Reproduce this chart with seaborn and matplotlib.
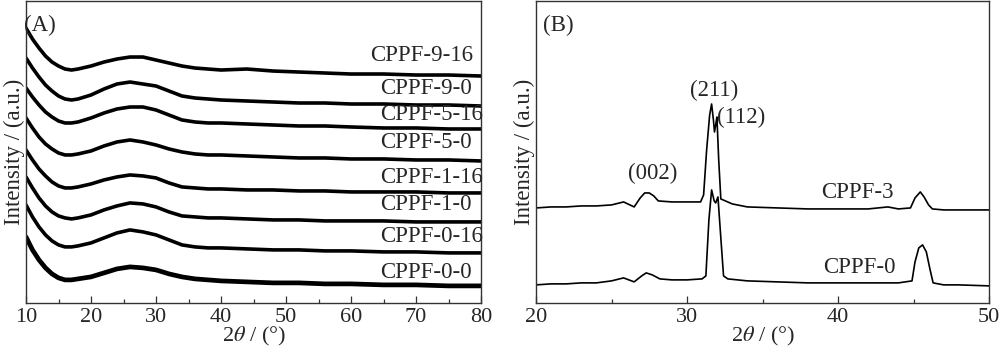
import pandas as pd
import matplotlib
matplotlib.use("Agg")
import matplotlib.pyplot as plt
import seaborn as sns
from matplotlib.ticker import MultipleLocator

# ==========================================
# DATA (arbitrary intensity units)
# ==========================================
# Panel A: amorphous XRD patterns, offset stacked
theta_a = [10, 11, 12, 13, 14, 15, 16, 17, 18, 20, 22, 24, 26, 28, 30, 32, 34,
           36, 38, 40, 44, 48, 52, 56, 60, 65, 70, 75, 80]
cppf_0_0 = [66, 53, 43, 35, 29, 25, 23, 23, 24, 26, 30, 34, 36, 35, 33, 29, 26,
            24, 23, 22, 21, 20, 20, 19, 19, 18, 18, 17, 17]
cppf_0_16 = [98, 86, 76, 68, 62, 58, 56, 56, 57, 60, 65, 70, 73, 71, 68, 63, 58,
             56, 55, 55, 54, 53, 53, 52, 52, 51, 51, 50, 50]
cppf_1_0 = [126, 115, 105, 97, 91, 87, 85, 84, 85, 88, 93, 97, 100, 99, 96, 91, 87,
            86, 85, 85, 84, 83, 83, 82, 82, 82, 81, 81, 81]
cppf_1_16 = [153, 143, 134, 127, 121, 117, 115, 115, 116, 119, 123, 126, 128, 127, 125, 120, 116,
             115, 114, 114, 113, 113, 112, 112, 111, 111, 111, 110, 110]
cppf_5_0 = [185, 175, 166, 159, 154, 150, 148, 148, 149, 152, 157, 161, 163, 161, 158, 154, 151,
            149, 148, 148, 147, 146, 145, 145, 144, 144, 143, 143, 142]
cppf_5_16 = [215, 206, 198, 191, 186, 182, 180, 180, 181, 185, 190, 194, 196, 196, 193, 188, 183,
             181, 180, 180, 179, 178, 177, 177, 176, 175, 175, 174, 174]
cppf_9_0 = [245, 235, 226, 218, 212, 207, 204, 203, 204, 208, 214, 219, 221, 219, 217, 212, 207,
            205, 204, 203, 202, 201, 200, 200, 199, 199, 198, 198, 197]
cppf_9_16 = [275, 264, 255, 247, 241, 237, 234, 233, 234, 237, 241, 244, 246, 246, 243, 240, 237,
             235, 234, 233, 234, 232, 231, 230, 229, 229, 228, 228, 227]

series_a = {
    "CPPF-0-0": cppf_0_0, "CPPF-0-16": cppf_0_16,
    "CPPF-1-0": cppf_1_0, "CPPF-1-16": cppf_1_16,
    "CPPF-5-0": cppf_5_0, "CPPF-5-16": cppf_5_16,
    "CPPF-9-0": cppf_9_0, "CPPF-9-16": cppf_9_16,
}
# label anchor (x, y) for each curve in panel A
labels_a = {
    "CPPF-9-16": (63.0, 248), "CPPF-9-0": (64.5, 215), "CPPF-5-16": (64.5, 188),
    "CPPF-5-0": (64.5, 160), "CPPF-1-16": (64.5, 125), "CPPF-1-0": (64.5, 98),
    "CPPF-0-16": (64.5, 66), "CPPF-0-0": (64.5, 30),
}

# Panel B: crystalline patterns
theta_b0 = [20, 21, 22, 23, 24, 25, 25.8, 26.5, 27.0, 27.3, 27.7, 28.2, 29, 30, 31,
            31.25, 31.45, 31.63, 31.8, 31.9, 32.05, 32.25, 32.42, 32.7, 34, 36, 38,
            40, 42, 44, 44.9, 45.1, 45.35, 45.6, 45.85, 46.1, 46.3, 47, 48, 50]
cppf_0 = [18, 19, 19, 20, 20, 22, 25, 21, 27, 30, 28, 24, 23, 23, 24,
          27, 83, 113, 102, 100, 106, 63, 27, 24, 22, 21, 20,
          20, 20, 20, 22, 41, 55, 58, 51, 33, 20, 18, 18, 17]
theta_b3 = [20, 21, 22, 23, 24, 25, 25.8, 26.5, 26.9, 27.2, 27.5, 27.8, 28.1, 29, 30,
            30.9, 31.1, 31.3, 31.5, 31.63, 31.75, 31.82, 31.9, 31.98, 32.1, 32.24, 33,
            34, 36, 38, 40, 42, 43.3, 44, 44.8, 45.1, 45.45, 45.7, 46.0, 46.25, 47, 50]
cppf_3 = [95, 96, 96, 97, 97, 98, 101, 96, 105, 110, 110, 107, 102, 101, 101,
          101, 108, 153, 188, 199, 183, 171, 178, 186, 143, 104, 99,
          96, 95, 94, 94, 94, 96, 94, 95, 105, 111, 106, 98, 94, 93, 93]

# ==========================================
# PLOTTING
# ==========================================
sns.set_theme(style="ticks")
plt.rcParams["font.family"] = ["Liberation Serif", "DejaVu Serif"]
plt.rcParams["mathtext.fontset"] = "stix"
FS = 16.5

fig = plt.figure(figsize=(10, 3.53), dpi=100)
ax_a = fig.add_axes([0.026, 0.142, 0.455, 0.855])
ax_b = fig.add_axes([0.536, 0.142, 0.453, 0.855])

for name, vals in series_a.items():
    df = pd.DataFrame({"theta": theta_a, "I": vals})
    lw = 3.4 if name == "CPPF-0-0" else 2.6
    sns.lineplot(data=df, x="theta", y="I", color="black", lw=lw, ax=ax_a)
    lx, ly = labels_a[name]
    ax_a.text(lx, ly, name, fontsize=FS, ha="left", va="center")

ax_a.set_xlim(10, 80)
ax_a.set_ylim(0, 302)
ax_a.xaxis.set_major_locator(MultipleLocator(10))
ax_a.xaxis.set_minor_locator(MultipleLocator(5))
ax_a.text(12.15, 278, "(A)", fontsize=FS, ha="center", va="center")

df0 = pd.DataFrame({"theta": theta_b0, "I": cppf_0})
df3 = pd.DataFrame({"theta": theta_b3, "I": cppf_3})
sns.lineplot(data=df0, x="theta", y="I", color="black", lw=1.2, ax=ax_b)
sns.lineplot(data=df3, x="theta", y="I", color="black", lw=1.2, ax=ax_b)
ax_b.set_xlim(20, 50)
ax_b.set_ylim(0, 302)
ax_b.xaxis.set_major_locator(MultipleLocator(10))
ax_b.xaxis.set_minor_locator(MultipleLocator(5))
ax_b.text(21.46, 278, "(B)", fontsize=FS, ha="center", va="center")
ax_b.text(38.87, 110, "CPPF-3", fontsize=FS, ha="left", va="center")
ax_b.text(39.0, 35, "CPPF-0", fontsize=FS, ha="left", va="center")
ax_b.text(27.75, 130, "(002)", fontsize=FS, ha="center", va="center")
ax_b.text(31.8, 213, "(211)", fontsize=FS, ha="center", va="center")
ax_b.text(33.6, 186, "(112)", fontsize=FS, ha="center", va="center")

for ax in (ax_a, ax_b):
    ax.set_yticks([])
    ax.tick_params(axis="x", which="major", direction="in", length=5, width=0.9,
                   color="#333333", labelsize=16, pad=4, top=False)
    ax.tick_params(axis="x", which="minor", direction="in", length=3, width=0.9,
                   color="#333333", top=False)
    for sp in ax.spines.values():
        sp.set_visible(True)
        sp.set_linewidth(1.0)
        sp.set_color("#333333")
    ax.set_xlabel(r"2$\theta$ / (°)", fontsize=16, labelpad=-2)
    ax.set_ylabel("Intensity / (a.u.)", fontsize=FS, labelpad=1)

fig.savefig("out.png", dpi=100)
